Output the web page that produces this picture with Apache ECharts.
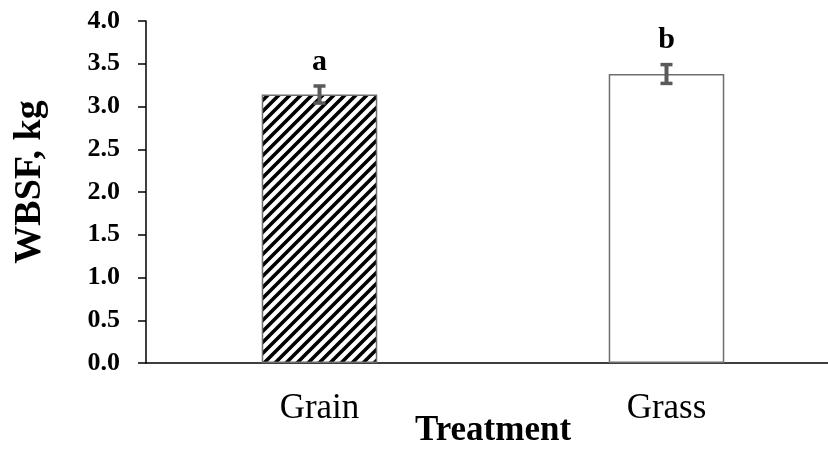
<!DOCTYPE html>
<html>
<head>
<meta charset="utf-8">
<script src="https://cdn.jsdelivr.net/npm/echarts@6/dist/echarts.min.js"></script>
<style>html,body{margin:0;padding:0;background:#fff}#c{width:828px;height:449px}</style>
</head>
<body>
<div id="c"></div>
<script>
var categories = ['Grain', 'Grass'];
var means = [3.14, 3.38];
var errors = [0.10, 0.11];
var letters = ['a', 'b'];
var yTicks = [0, 0.5, 1.0, 1.5, 2.0, 2.5, 3.0, 3.5, 4.0];

var FONT = '"Liberation Serif", "Times New Roman", serif';

function hatch() {
  var s = 11;
  var cv = document.createElement('canvas');
  cv.width = s; cv.height = s;
  var g = cv.getContext('2d');
  g.fillStyle = '#fff';
  g.fillRect(0, 0, s, s);
  g.strokeStyle = '#000';
  g.lineWidth = 3.6;
  g.beginPath();
  g.moveTo(-s, s); g.lineTo(s, -s);
  g.moveTo(0, s); g.lineTo(s, 0);
  g.moveTo(0, 2 * s); g.lineTo(2 * s, 0);
  g.stroke();
  return cv;
}

var chart = echarts.init(document.getElementById('c'));
var barData = means.map(function (v, i) {
  return {
    value: v,
    itemStyle: i === 0
      ? { color: { image: hatch(), repeat: 'repeat' }, borderColor: '#6e6e6e', borderWidth: 1.5 }
      : { color: '#ffffff', borderColor: '#6e6e6e', borderWidth: 1.5 }
  };
});
var errData = means.map(function (v, i) { return [i, v - errors[i], v + errors[i], letters[i]]; });

chart.setOption({
  animation: false,
  grid: { left: 146, top: 21, bottom: 86, right: -12, containLabel: false, outerBoundsMode: 'none' },
  xAxis: {
    type: 'category',
    data: categories,
    axisLine: { lineStyle: { color: '#000', width: 1.5 } },
    axisTick: { show: false },
    axisLabel: { color: '#000', fontFamily: FONT, fontSize: 35, margin: 28 },
    name: 'Treatment',
    nameLocation: 'middle',
    nameGap: 50,
    nameMoveOverlap: false,
    nameTextStyle: { color: '#000', fontFamily: FONT, fontSize: 35, fontWeight: 'bold' }
  },
  yAxis: {
    type: 'value',
    min: yTicks[0],
    max: yTicks[yTicks.length - 1],
    interval: 0.5,
    axisLine: { show: true, lineStyle: { color: '#000', width: 1.5 } },
    axisTick: { show: true, inside: false, length: 8, lineStyle: { color: '#000', width: 1.5 } },
    splitLine: { show: false },
    axisLabel: {
      color: '#000', fontFamily: FONT, fontSize: 26, fontWeight: 'bold', margin: 26,
      formatter: function (v) { return v.toFixed(1); }
    },
    name: 'WBSF, kg',
    nameLocation: 'middle',
    nameGap: 97,
    nameTextStyle: { color: '#000', fontFamily: FONT, fontSize: 38, fontWeight: 'bold', padding: [0, 0, 0, 20] }
  },
  series: [
    {
      type: 'bar',
      data: barData,
      barWidth: '33.3%'
    },
    {
      type: 'custom',
      data: errData,
      z: 10,
      renderItem: function (params, api) {
        var x = api.coord([api.value(0), 0])[0];
        var lo = api.coord([api.value(0), api.value(1)])[1];
        var hi = api.coord([api.value(0), api.value(2)])[1];
        var c = 6;
        var st = { stroke: '#5a5a5a', lineWidth: 4 };
        return {
          type: 'group',
          children: [
            { type: 'line', shape: { x1: x, y1: lo, x2: x, y2: hi }, style: st },
            { type: 'line', shape: { x1: x - c, y1: lo, x2: x + c, y2: lo }, style: { stroke: '#5a5a5a', lineWidth: 3.5 } },
            { type: 'line', shape: { x1: x - c, y1: hi, x2: x + c, y2: hi }, style: { stroke: '#5a5a5a', lineWidth: 3.5 } },
            { type: 'text', style: { x: x, y: hi - 9, text: letters[params.dataIndex], fill: '#000',
              font: 'bold 30px ' + FONT, textAlign: 'center', textVerticalAlign: 'bottom' } }
          ]
        };
      }
    }
  ]
});
</script>
</body>
</html>
